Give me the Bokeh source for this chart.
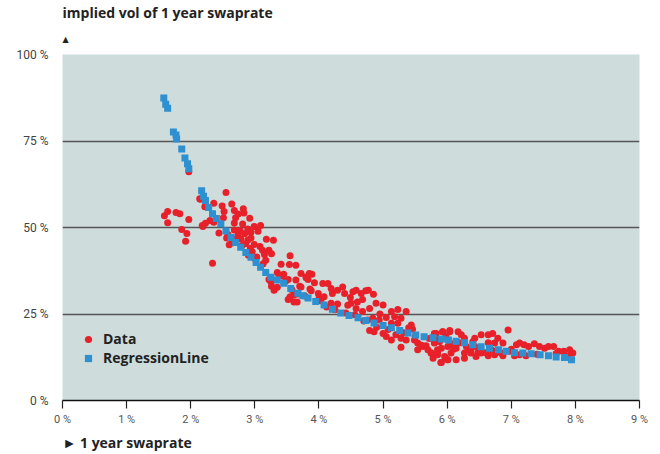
from bokeh.plotting import figure
from bokeh.models import Title, FixedTicker, Legend, LegendItem, Range1d
from bokeh.embed import file_html
from bokeh.resources import INLINE

# ---- data (swaprate in %, implied vol in %) ----
data_x = [1.97, 1.64, 1.59, 1.64, 1.77, 1.83, 1.86, 1.94, 1.92, 1.97, 2.34, 2.55, 2.14, 2.19, 2.22,
          2.36, 2.15, 2.49, 2.64, 2.52, 2.68, 2.74, 2.82, 2.83, 2.51, 2.70, 2.92, 2.36, 2.30, 2.23,
          2.18, 2.68, 2.81, 2.99, 3.09, 2.44, 2.68, 2.77, 2.89, 2.94, 3.05, 2.74, 2.84, 2.56, 2.78,
          2.89, 2.94, 2.86, 2.99, 2.64, 3.18, 3.29, 2.93, 3.08, 3.12, 3.22, 3.15, 3.26, 3.17, 3.55,
          3.41, 3.54, 3.64, 3.72, 3.80, 3.85, 3.42, 3.22, 3.26, 3.35, 3.30, 3.52, 3.64, 3.72, 3.55,
          3.61, 3.52, 3.86, 3.25, 2.72, 3.80, 3.83, 3.89, 3.93, 3.88, 3.99, 3.61, 3.66, 4.06, 4.14,
          4.19, 4.21, 4.29, 4.37, 4.40, 4.08, 4.19, 4.29, 4.53, 4.58, 4.66, 4.73, 4.77, 4.85, 4.49,
          4.60, 4.68, 4.50, 4.89, 5.00, 4.79, 4.58, 4.68, 5.13, 5.23, 5.36, 5.18, 5.28, 4.84, 4.94,
          5.05, 5.13, 5.23, 4.76, 4.79, 4.86, 5.00, 5.05, 5.13, 5.20, 5.28, 5.28, 5.36, 5.44, 5.46,
          5.49, 5.54, 5.62, 5.70, 5.75, 5.80, 5.85, 5.93, 5.98, 6.04, 5.85, 5.91, 5.96, 6.01, 5.78,
          5.67, 5.54, 5.83, 5.93, 6.04, 6.17, 6.22, 6.27, 6.43, 6.53, 6.64, 6.71, 6.79, 6.95, 5.80,
          5.91, 6.01, 6.14, 6.30, 6.40, 6.64, 6.74, 6.87, 5.75, 5.85, 5.98, 5.90, 6.01, 6.14, 6.27,
          6.37, 6.45, 6.53, 6.64, 6.74, 6.84, 6.87, 6.97, 7.05, 7.13, 7.23, 7.08, 7.13, 7.20, 7.27,
          7.36, 7.44, 7.52, 7.58, 7.66, 7.74, 7.82, 7.91, 7.96, 6.27, 6.06, 6.19, 6.43, 6.50, 6.37,
          5.85, 2.60, 2.90, 3.00, 3.35, 3.45, 3.70, 4.00, 4.45, 4.95, 5.40, 5.60, 6.10, 6.60, 7.00,
          7.40, 7.70, 7.88, 2.58, 2.66, 2.80, 2.96, 3.03, 3.13, 3.38, 3.48, 3.58, 3.68, 3.78, 4.03,
          4.12, 4.25, 4.42, 4.56, 4.70, 4.90, 5.08, 5.32, 5.50, 5.72, 5.88, 6.08, 6.33, 6.48, 6.70]
data_y = [66.1, 54.6, 53.4, 51.4, 54.3, 54.0, 49.4, 48.3, 46.0, 52.3, 39.7, 60.1, 58.3, 50.3, 56.0,
          57.0, 58.2, 56.2, 56.8, 54.6, 54.9, 53.9, 55.4, 54.2, 52.8, 52.8, 52.7, 51.5, 52.0, 51.2,
          50.6, 51.3, 51.0, 50.3, 50.6, 48.4, 49.3, 49.1, 49.6, 48.6, 48.9, 48.0, 48.2, 47.0, 46.7,
          46.4, 47.0, 45.3, 45.1, 45.5, 46.6, 46.3, 43.9, 44.5, 43.4, 43.4, 42.2, 42.4, 40.5, 41.8,
          39.4, 39.3, 39.1, 36.7, 35.7, 36.7, 36.0, 35.0, 33.0, 32.7, 31.9, 35.0, 34.8, 32.8, 30.0,
          28.5, 29.2, 32.2, 34.3, 47.0, 35.5, 35.0, 36.5, 34.0, 31.7, 30.9, 30.5, 28.5, 33.8, 33.8,
          32.4, 30.9, 31.9, 32.8, 30.9, 30.0, 28.1, 27.9, 31.4, 31.9, 30.9, 31.7, 31.9, 30.7, 29.8,
          28.5, 29.2, 28.1, 28.1, 27.6, 26.6, 26.6, 25.7, 25.7, 26.3, 25.7, 24.2, 23.8, 23.8, 23.3,
          24.0, 22.3, 22.3, 23.3, 20.2, 19.9, 19.4, 18.5, 17.5, 19.0, 18.0, 15.4, 17.5, 21.8, 20.6,
          17.5, 16.6, 15.6, 14.7, 13.7, 19.4, 17.5, 19.9, 18.5, 20.2, 13.7, 11.0, 12.7, 11.8, 12.2,
          15.8, 14.7, 19.4, 19.9, 19.9, 19.9, 19.0, 18.0, 18.0, 19.0, 19.0, 19.4, 18.0, 20.4, 16.6,
          15.1, 15.6, 15.1, 15.6, 17.0, 16.7, 16.6, 16.6, 13.7, 13.2, 12.2, 11.0, 11.8, 11.8, 12.2,
          13.7, 12.7, 13.7, 12.9, 13.2, 13.7, 12.9, 14.2, 12.9, 13.2, 12.9, 16.1, 16.6, 16.1, 15.6,
          16.4, 15.6, 15.1, 15.6, 15.6, 14.2, 14.2, 14.7, 13.7, 13.7, 13.7, 16.7, 15.6, 15.1, 14.7,
          14.7, 45.0, 42.0, 41.0, 37.0, 36.5, 33.0, 29.5, 27.5, 25.0, 21.0, 16.0, 14.8, 13.8, 14.8,
          13.4, 13.6, 12.8, 48.0, 46.0, 44.8, 43.0, 41.5, 39.5, 36.2, 34.5, 32.0, 30.8, 30.2, 28.8,
          27.0, 26.2, 25.3, 24.8, 23.0, 21.2, 20.5, 19.6, 18.6, 17.9, 17.0, 16.4, 14.9, 13.9, 14.5]

reg_x = [1.58, 1.61, 1.64, 1.73, 1.77, 1.78, 1.86, 1.91, 1.95, 1.97, 2.17, 2.20, 2.23, 2.28, 2.34,
         2.40, 2.47, 2.55, 2.63, 2.70, 2.78, 2.86, 2.94, 3.02, 3.09, 3.17, 3.25, 3.35, 3.45, 3.56,
         3.67, 3.75, 3.83, 3.95, 4.08, 4.21, 4.34, 4.47, 4.61, 4.73, 4.86, 5.00, 5.13, 5.26, 5.39,
         5.51, 5.64, 5.78, 5.91, 6.02, 6.14, 6.27, 6.40, 6.53, 6.66, 6.80, 6.92, 7.05, 7.18, 7.31,
         7.45, 7.58, 7.70, 7.83, 7.94]
reg_y = [87.4, 85.6, 84.5, 77.6, 76.7, 75.6, 72.7, 70.1, 68.4, 67.0, 60.6, 59.0, 57.8, 55.8, 54.0,
         52.6, 51.1, 49.0, 47.1, 45.7, 44.3, 42.8, 41.4, 39.9, 38.5, 37.0, 35.6, 34.8, 33.9, 32.4,
         31.0, 30.3, 29.6, 28.6, 27.6, 26.4, 25.3, 24.6, 23.9, 23.1, 22.4, 21.7, 21.0, 20.2, 19.5,
         18.9, 18.4, 18.1, 17.8, 17.5, 17.1, 16.7, 16.1, 15.5, 15.1, 14.7, 14.2, 13.8, 13.7, 13.5,
         13.2, 12.9, 12.6, 12.4, 11.8]

y_ticks = [0, 25, 50, 75, 100]
y_tick_labels = ["0 %", "25 %", "50 %", "75 %", "100 %"]
x_ticks = [0, 1, 2, 3, 4, 5, 6, 7, 8, 9]
x_tick_labels = ["0 %", "1 %", "2 %", "3 %", "4 %", "5 %", "6 %", "7 %", "8 %", "9 %"]

title_text = "implied vol of 1 year swaprate"
xlabel_text = "\u25BA 1 year swaprate"

RED = "#E8202A"
BLUE = "#2E90D1"
FONT = "Roboto"
BOLD_FONT = "Open Sans"

p = figure(width=652, height=454, output_backend="svg", toolbar_location=None,
           x_range=Range1d(0, 9), y_range=Range1d(0, 100),
           min_border_left=62, min_border_right=13, min_border_top=0, min_border_bottom=0)
p.background_fill_color = "#CEDCDC"
p.border_fill_color = "white"
p.outline_line_color = None

r_data = p.scatter(data_x, data_y, marker="circle", size=7, fill_color=RED, line_color=None)
r_reg = p.scatter(reg_x, reg_y, marker="square", size=7, fill_color=BLUE, line_color=None)

# axes
p.xaxis.ticker = FixedTicker(ticks=x_ticks)
p.xaxis.major_label_overrides = {t: l for t, l in zip(x_ticks, x_tick_labels)}
p.xaxis.axis_line_color = "#111111"
p.xaxis.axis_line_width = 1.5
p.xaxis.major_tick_line_color = "#222222"
p.xaxis.major_tick_line_width = 1.2
p.xaxis.major_tick_out = 8
p.xaxis.major_tick_in = 0
p.xaxis.minor_tick_line_color = None
p.xaxis.major_label_text_font = FONT
p.xaxis.major_label_text_font_size = "11px"
p.xaxis.major_label_text_color = "#555555"
p.xaxis.major_label_standoff = 4

p.yaxis.ticker = FixedTicker(ticks=y_ticks)
p.yaxis.major_label_overrides = {t: l for t, l in zip(y_ticks, y_tick_labels)}
p.yaxis.axis_line_color = None
p.yaxis.major_tick_line_color = None
p.yaxis.minor_tick_line_color = None
p.yaxis.major_label_text_font = FONT
p.yaxis.major_label_text_font_size = "12px"
p.yaxis.major_label_text_color = "#444444"
p.yaxis.major_label_standoff = 8

p.xgrid.grid_line_color = None
p.ygrid.grid_line_color = "#555555"
p.ygrid.grid_line_width = 1.5

# title + up arrow above, x label below
p.title = Title(text=title_text, align="left", text_font=BOLD_FONT, text_font_size="14px",
                text_font_style="bold", text_color="#222222", standoff=0)
p.add_layout(Title(text="\u25B2", align="left", text_font="DejaVu Sans", text_font_size="8px",
                   text_color="#222222", text_font_style="normal", standoff=22), "above")
p.add_layout(Title(text=xlabel_text, align="left", text_font=BOLD_FONT, text_font_size="14px",
                   text_font_style="bold", text_color="#222222", standoff=5), "below")

legend = Legend(items=[LegendItem(label="Data", renderers=[r_data]),
                       LegendItem(label="RegressionLine", renderers=[r_reg])],
                location=(16, 33), margin=0, padding=0, spacing=0,
                label_height=18, glyph_height=18, glyph_width=20,
                label_text_font=BOLD_FONT, label_text_font_size="14px",
                label_text_font_style="bold", label_text_color="#222222",
                background_fill_alpha=0, border_line_color=None)
p.add_layout(legend)

open("out.html", "w").write(file_html(p, INLINE))
